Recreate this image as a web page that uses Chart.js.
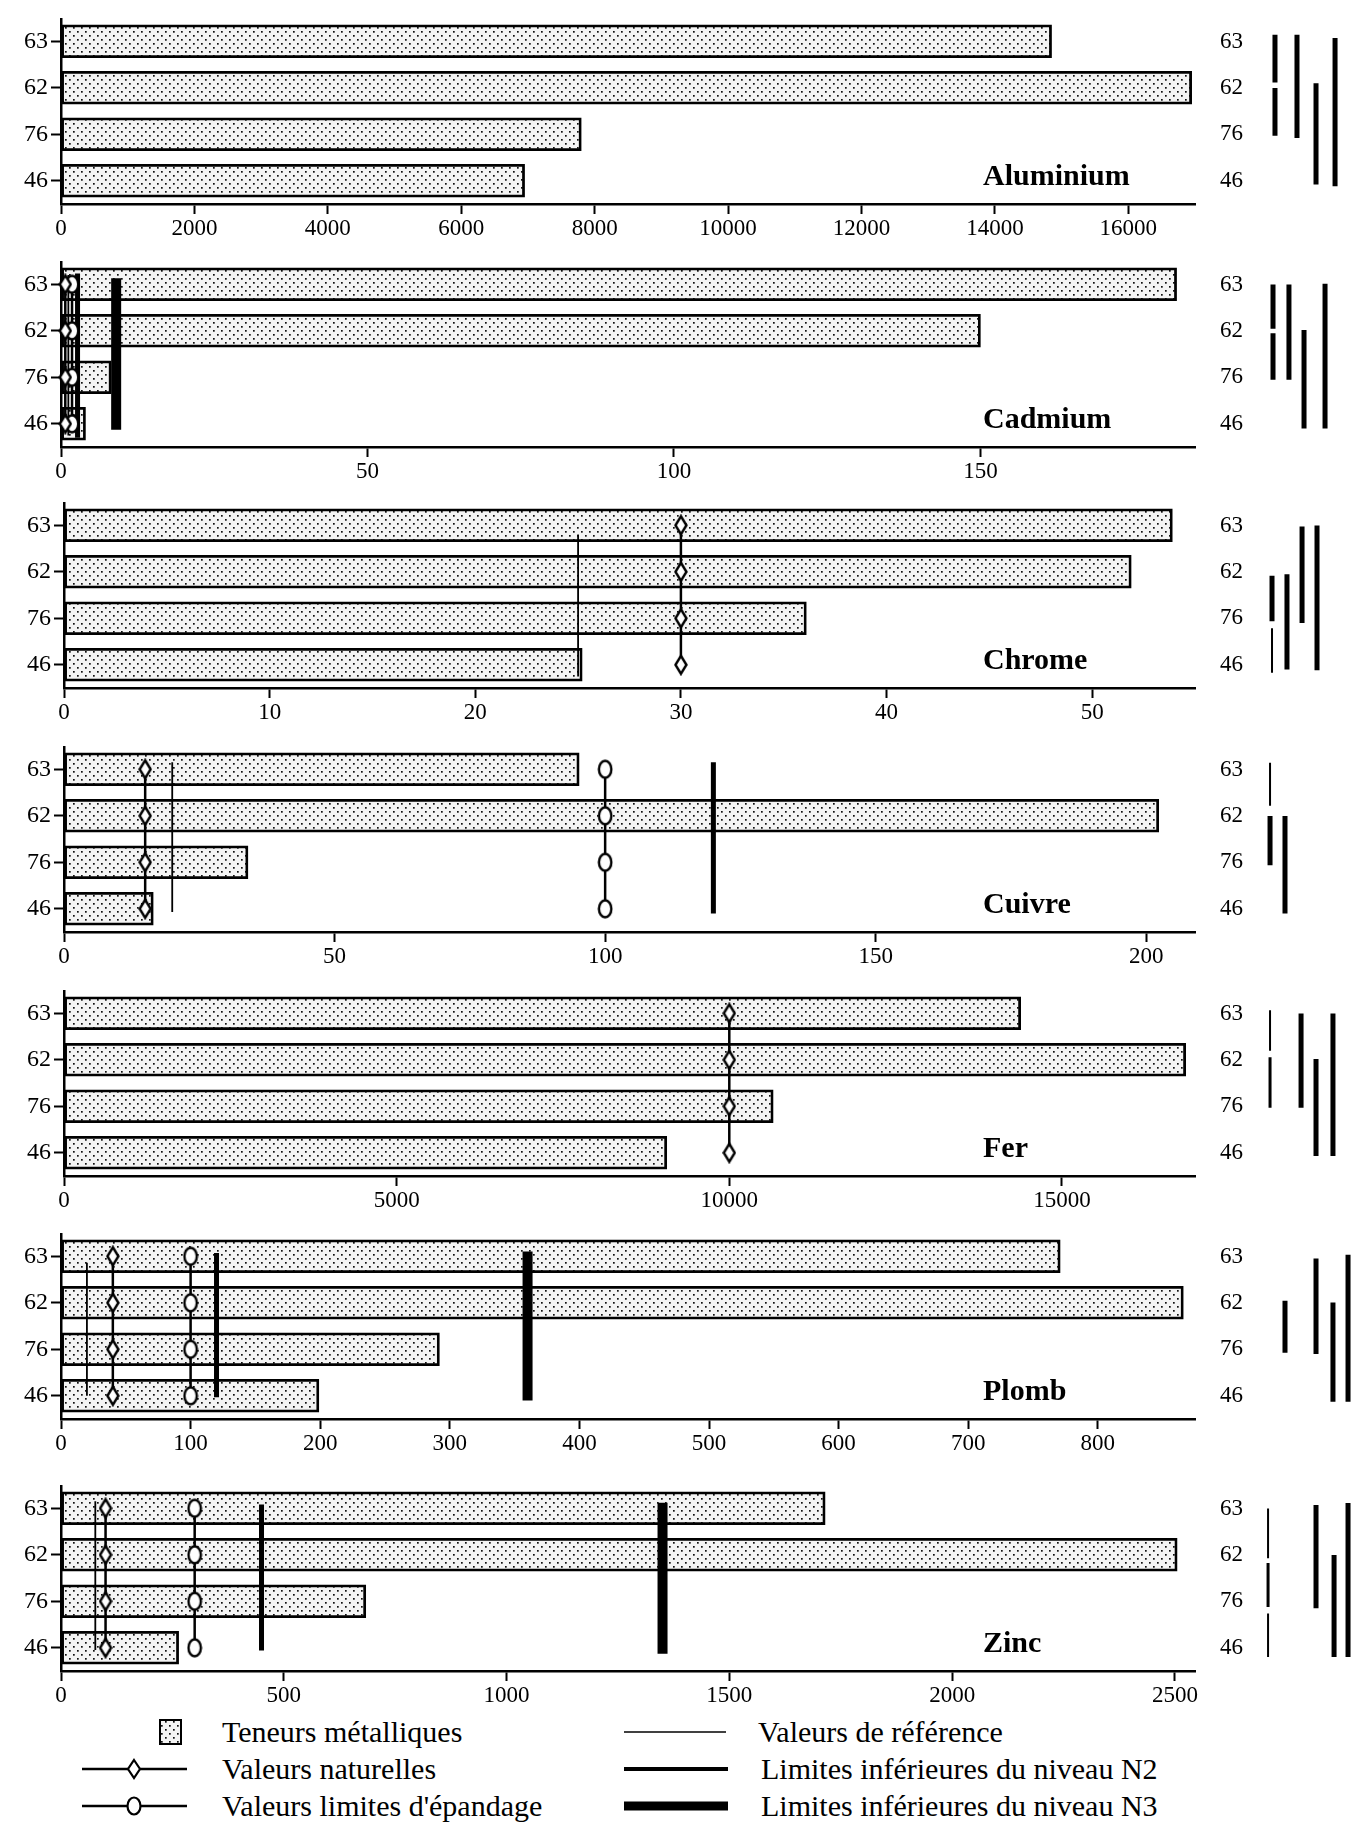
<!DOCTYPE html>
<html lang="fr">
<head>
<meta charset="utf-8">
<title>Teneurs métalliques</title>
<script src="https://cdn.jsdelivr.net/npm/chart.js@4.4.1/dist/chart.umd.min.js"></script>
<style>
body { margin: 0; background: #fff; }
#page { position: relative; width: 1351px; height: 1830px; overflow: hidden; font-family: 'Liberation Serif', 'Times New Roman', serif; color: #000; }
#page canvas { position: absolute; }
.titre { position: absolute; left: 983px; font-size: 30px; font-weight: bold; line-height: 30px; white-space: nowrap; }
.leg { position: absolute; font-size: 30px; line-height: 36px; white-space: nowrap; }
#symboles { position: absolute; left: 0; top: 1700px; }
</style>
</head>
<body>
<div id="page">
  <svg id="symboles" width="800" height="130">
    <defs>
      <pattern id="points" width="8" height="8" patternUnits="userSpaceOnUse">
        <rect width="8" height="8" fill="#f4f4f4"/>
        <rect x="1" y="1" width="1.7" height="1.7" fill="#111"/>
        <rect x="5" y="5" width="1.7" height="1.7" fill="#111"/>
      </pattern>
    </defs>
    <rect x="160" y="20" width="21" height="24" fill="url(#points)" stroke="#000" stroke-width="2"/>
    <line x1="82" y1="69" x2="187" y2="69" stroke="#000" stroke-width="2.5"/>
    <polygon points="134,60 140,69 134,78 128,69" fill="#fff" stroke="#000" stroke-width="2.2"/>
    <line x1="82" y1="106" x2="187" y2="106" stroke="#000" stroke-width="2.5"/>
    <ellipse cx="134" cy="106" rx="6.5" ry="8.5" fill="#fff" stroke="#000" stroke-width="2.2"/>
    <line x1="624" y1="32" x2="726" y2="32" stroke="#000" stroke-width="1.5"/>
    <line x1="624" y1="69" x2="728" y2="69" stroke="#000" stroke-width="4"/>
    <line x1="624" y1="106" x2="728" y2="106" stroke="#000" stroke-width="9"/>
  </svg>
  <div class="leg" style="left:222px; top:1714px;">Teneurs métalliques</div>
  <div class="leg" style="left:222px; top:1751px;">Valeurs naturelles</div>
  <div class="leg" style="left:222px; top:1788px;">Valeurs limites d'épandage</div>
  <div class="leg" style="left:758px; top:1714px;">Valeurs de référence</div>
  <div class="leg" style="left:761px; top:1751px;">Limites inférieures du niveau N2</div>
  <div class="leg" style="left:761px; top:1788px;">Limites inférieures du niveau N3</div>
</div>
<script>
// Sites and metals
var sites = ['63', '62', '76', '46'];
var metaux = ['Aluminium', 'Cadmium', 'Chrome', 'Cuivre', 'Fer', 'Plomb', 'Zinc'];

// Metal contents per site (63, 62, 76, 46)
var teneursAluminium = [14850, 16950, 7800, 6950];
var teneursCadmium = [182, 150, 8.2, 4];
var teneursChrome = [53.9, 51.9, 36.1, 25.2];
var teneursCuivre = [95.2, 202.3, 34, 16.5];
var teneursFer = [14380, 16860, 10660, 9060];
var teneursPlomb = [771, 866, 292, 199];
var teneursZinc = [1715, 2505, 684, 264];
var teneurs = [teneursAluminium, teneursCadmium, teneursChrome, teneursCuivre, teneursFer, teneursPlomb, teneursZinc];

// Threshold values per metal (null = absent)
var valeursNaturelles = [null, 0.7, 30, 15, 10000, 40, 100];
var limitesEpandage = [null, 1.8, null, 100, null, 100, 300];
var valeursReference = [null, 1.2, 25, 20, null, 20, 77];
var limitesN2 = [null, 2.7, null, 120, null, 120, 450];
var limitesN3 = [null, 9, null, null, null, 360, 1350];

// Extent of the threshold lines, in site rows (0 = 63 ... 3 = 46)
var etendueReference = [null, [-0.2, 3.25], [0.2, 3.25], [-0.15, 3.07], null, [0.14, 3.0], [-0.15, 3.05]];
var etendueN2 = [null, [-0.23, 3.3], null, [-0.15, 3.1], null, [-0.07, 3.03], [-0.08, 3.06]];
var etendueN3 = [null, [-0.13, 3.13], null, null, null, [-0.1, 3.1], [-0.12, 3.13]];

// Axis ranges
var axeMax = [17000, 185, 55, 209, 17000, 875, 2545];
var pasGraduation = [2000, 50, 10, 50, 5000, 100, 500];

// Homogeneous groups: [column, from row, to row, stroke (0 thick, 1 medium, 2 thin)]
var groupesAluminium = [[0, -0.15, 0.88, 0], [0, 1.0, 2.03, 0], [1, -0.15, 2.08, 0], [2, 0.9, 3.08, 0], [3, -0.08, 3.12, 0]];
var groupesCadmium = [[0, 0, 0.95, 0], [0, 1.05, 2.05, 0], [1, 0, 2.05, 0], [2, 0.98, 3.1, 0], [3, -0.02, 3.1, 0]];
var groupesChrome = [[0, 1.08, 2.06, 0], [0, 2.21, 3.17, 2], [1, 1.05, 3.1, 0], [2, 0.02, 2.1, 0], [3, 0, 3.12, 0]];
var groupesCuivre = [[0, -0.15, 0.78, 2], [0, 1.0, 2.06, 0], [1, 1.0, 3.1, 0]];
var groupesFer = [[0, -0.07, 0.8, 2], [0, 0.94, 2.03, 1], [1, 0, 2.03, 0], [2, 0.98, 3.07, 0], [3, 0, 3.07, 0]];
var groupesPlomb = [[0, 0.95, 2.07, 0], [1, 0.04, 2.1, 0], [2, 0.99, 3.13, 0], [3, -0.04, 3.13, 0]];
var groupesZinc = [[0, 0, 1.07, 2], [0, 1.17, 2.12, 1], [0, 2.26, 3.2, 2], [1, -0.08, 2.15, 0], [2, 1.0, 3.2, 0], [3, -0.12, 3.2, 0]];
var groupes = [groupesAluminium, groupesCadmium, groupesChrome, groupesCuivre, groupesFer, groupesPlomb, groupesZinc];

// Layout only
var hautPanneau = [2, 245, 486, 730, 974, 1217, 1469];
var largeurAxeY = [61, 61, 64, 64, 64, 61, 61];
var colonnes = [
    [1.18, 3.18, 4.91, 6.64],
    [1.0, 2.45, 3.82, 5.73],
    [0.91, 2.27, 3.64, 5.0],
    [0.73, 2.09],
    [0.73, 3.55, 4.91, 6.45],
    [2.09, 4.91, 6.45, 7.82],
    [0.55, 4.91, 6.55, 7.82]
];
var epaisseurs = [5, 3, 2];

Chart.defaults.font.family = "'Liberation Serif', 'Times New Roman', serif";
Chart.defaults.color = '#000';

// Dotted fill for the bars
function makeDots() {
    var c = document.createElement('canvas');
    c.width = 8; c.height = 8;
    var g = c.getContext('2d');
    g.fillStyle = '#f4f4f4';
    g.fillRect(0, 0, 8, 8);
    g.fillStyle = '#111';
    g.fillRect(1, 1, 1.7, 1.7);
    g.fillRect(5, 5, 1.7, 1.7);
    return g.createPattern(c, 'repeat');
}

function diamondMarker() {
    var c = document.createElement('canvas');
    c.width = 14; c.height = 22;
    var g = c.getContext('2d');
    g.beginPath();
    g.moveTo(7, 2); g.lineTo(12.5, 11); g.lineTo(7, 20); g.lineTo(1.5, 11);
    g.closePath();
    g.fillStyle = '#fff'; g.fill();
    g.lineWidth = 2.4; g.strokeStyle = '#000'; g.stroke();
    return c;
}

function ovalMarker() {
    var c = document.createElement('canvas');
    c.width = 16; c.height = 22;
    var g = c.getContext('2d');
    g.beginPath();
    g.ellipse(8, 11, 6.2, 8.5, 0, 0, Math.PI * 2);
    g.fillStyle = '#fff'; g.fill();
    g.lineWidth = 2.4; g.strokeStyle = '#000'; g.stroke();
    return c;
}

var dots = makeDots();
var diamond = diamondMarker();
var oval = ovalMarker();
var page = document.getElementById('page');

function rowTicks(scale) {
    scale.ticks = sites.map(function(s, k) { return { value: k }; });
}

function addCanvas(left, top, w, h) {
    var cv = document.createElement('canvas');
    cv.width = w; cv.height = h;
    cv.style.left = left + 'px';
    cv.style.top = top + 'px';
    page.appendChild(cv);
    return cv;
}

// Vertical line through all sites, with markers
function markerLine(value, marker) {
    return {
        type: 'line', indexAxis: 'y', order: marker === diamond ? 1 : 2,
        data: sites.map(function(s, k) { return { x: value, y: k }; }),
        borderColor: '#000', borderWidth: 2.5,
        pointStyle: marker, pointRadius: 8, clip: false
    };
}

// Plain vertical limit line
function limitLine(value, span, width, order) {
    return {
        type: 'line', indexAxis: 'y', order: order,
        data: [{ x: value, y: span[0] }, { x: value, y: span[1] }],
        borderColor: '#000', borderWidth: width, borderCapStyle: 'butt',
        pointRadius: 0, clip: false
    };
}

function buildPanel(i) {
    var step = pasGraduation[i];
    var datasets = [{
        type: 'bar', order: 10,
        data: teneurs[i].map(function(v, k) { return { x: v, y: k }; }),
        backgroundColor: dots, borderColor: '#000', borderWidth: 2.8,
        borderSkipped: false, barThickness: 33
    }];
    if (limitesN3[i] !== null) datasets.push(limitLine(limitesN3[i], etendueN3[i], 10, 6));
    if (limitesN2[i] !== null) datasets.push(limitLine(limitesN2[i], etendueN2[i], 5, 5));
    if (valeursReference[i] !== null) datasets.push(limitLine(valeursReference[i], etendueReference[i], 1.8, 4));
    if (limitesEpandage[i] !== null) datasets.push(markerLine(limitesEpandage[i], oval));
    if (valeursNaturelles[i] !== null) datasets.push(markerLine(valeursNaturelles[i], diamond));

    new Chart(addCanvas(0, hautPanneau[i], 1210, 244), {
        type: 'bar',
        data: { datasets: datasets },
        options: {
            indexAxis: 'y',
            responsive: false,
            animation: false,
            devicePixelRatio: 1,
            layout: { padding: { top: 14, right: 15, left: 0, bottom: 0 } },
            plugins: { legend: { display: false }, tooltip: { enabled: false } },
            scales: {
                x: {
                    type: 'linear', min: 0, max: axeMax[i], offset: false,
                    afterBuildTicks: function(scale) {
                        var list = [];
                        for (var v = 0; v <= axeMax[i]; v += step) list.push({ value: v });
                        scale.ticks = list;
                    },
                    ticks: {
                        callback: function(v) { return String(v); },
                        font: { size: 23 }, padding: 1, maxRotation: 0, autoSkip: false
                    },
                    grid: { drawOnChartArea: false, tickLength: 10, tickWidth: 2, tickColor: '#000', offset: false },
                    border: { color: '#000', width: 2.5 },
                    afterFit: function(scale) { scale.height = 42; }
                },
                y: {
                    type: 'linear', reverse: true, min: -0.47, max: 3.5, offset: false,
                    afterBuildTicks: rowTicks,
                    ticks: { callback: function(v) { return sites[v]; }, font: { size: 24 }, padding: 3, autoSkip: false },
                    grid: { drawOnChartArea: false, tickLength: 10, tickWidth: 2, tickColor: '#000', offset: false },
                    border: { color: '#000', width: 2.5 },
                    afterFit: function(scale) { scale.width = largeurAxeY[i]; }
                }
            }
        }
    });

    // Homogeneous groups on the right
    var cols = colonnes[i];
    new Chart(addCanvas(1205, hautPanneau[i], 146, 244), {
        type: 'scatter',
        data: {
            datasets: groupes[i].map(function(g) {
                return {
                    data: [{ x: cols[g[0]], y: g[1] }, { x: cols[g[0]], y: g[2] }],
                    showLine: true, borderColor: '#000', borderWidth: epaisseurs[g[3]],
                    borderCapStyle: 'butt', pointRadius: 0, clip: false
                };
            })
        },
        options: {
            responsive: false,
            animation: false,
            devicePixelRatio: 1,
            layout: { padding: { top: 14, bottom: 42, left: 0, right: 0 } },
            plugins: { legend: { display: false }, tooltip: { enabled: false } },
            scales: {
                x: { type: 'linear', display: false, min: -1.364, max: 8.09 },
                y: {
                    type: 'linear', reverse: true, min: -0.47, max: 3.5,
                    afterBuildTicks: rowTicks,
                    ticks: { callback: function(v) { return sites[v]; }, font: { size: 23 }, padding: 4, autoSkip: false },
                    grid: { display: false, drawTicks: false },
                    border: { display: false },
                    afterFit: function(scale) { scale.width = 42; }
                }
            }
        }
    });

    var t = document.createElement('div');
    t.className = 'titre';
    t.style.top = (hautPanneau[i] + 158) + 'px';
    t.textContent = metaux[i];
    page.appendChild(t);
}

for (var i = 0; i < metaux.length; i++) {
    buildPanel(i);
}
</script>
</body>
</html>
